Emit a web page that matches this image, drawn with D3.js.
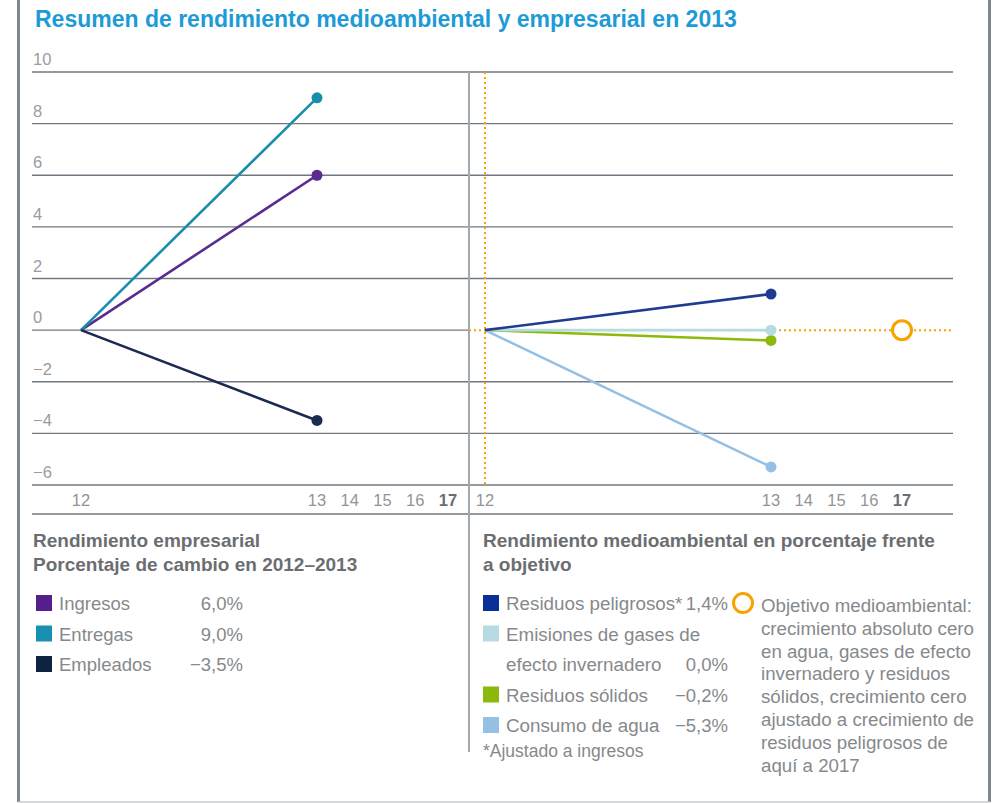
<!DOCTYPE html>
<html>
<head>
<meta charset="utf-8">
<script src="https://cdn.jsdelivr.net/npm/d3@7"></script>
<style>
  html, body { margin: 0; padding: 0; background: #fff; }
  svg text { font-family: "Liberation Sans", Arial, sans-serif; }
</style>
</head>
<body>
<div id="chart"></div>
<script>
(function() {
'use strict';

// values
const years = [12, 13, 14, 15, 16, 17];
const yTicks = [10, 8, 6, 4, 2, 0, -2, -4, -6];

const businessNames = ['Ingresos', 'Entregas', 'Empleados'];
const businessValues = [6.0, 9.0, -3.5];
const businessLabels = ['6,0%', '9,0%', '\u22123,5%'];

const envNames = [['Residuos peligrosos*'], ['Emisiones de gases de', 'efecto invernadero'], ['Residuos sólidos'], ['Consumo de agua']];
const envValues = [1.4, 0.0, -0.4, -5.3];
const envLabels = ['1,4%', '0,0%', '\u22120,2%', '\u22125,3%'];

const targetYear = 17;
const targetValue = 0;

const noteLines = [
  'Objetivo medioambiental:',
  'crecimiento absoluto cero',
  'en agua, gases de efecto',
  'invernadero y residuos',
  'sólidos, crecimiento cero',
  'ajustado a crecimiento de',
  'residuos peligrosos de',
  'aquí a 2017'
];

const businessColors = ['#5b2c8f', '#1a8daa', '#1b2a50'];
const businessSwatch = ['#561d8c', '#1890b0', '#0e2341'];
const envColors = ['#1f3b92', '#b7dbe3', '#8bba0c', '#94c0e6'];
const envSwatch = ['#0a2f96', '#b7dbe3', '#8bba0c', '#94c0e6'];
const orange = '#f8a200';
const grey = '#86898c';
const darkGrey = '#6b6e71';

const width = 1001;
const height = 803;

const svg = d3.select('#chart')
  .append('svg')
  .attr('width', width)
  .attr('height', height);

// frame
svg.append('line')
  .attr('x1', 18.5).attr('x2', 18.5).attr('y1', 0).attr('y2', 802)
  .attr('stroke', '#7d858d').attr('stroke-width', 3);
svg.append('line')
  .attr('x1', 989.5).attr('x2', 989.5).attr('y1', 0).attr('y2', 802)
  .attr('stroke', '#7d858d').attr('stroke-width', 3);
svg.append('line')
  .attr('x1', 18).attr('x2', 990).attr('y1', 802).attr('y2', 802)
  .attr('stroke', '#c9cccf').attr('stroke-width', 1.5);

svg.append('text')
  .attr('x', 35)
  .attr('y', 27)
  .attr('fill', '#1d9bd7')
  .attr('font-size', 23)
  .attr('font-weight', 'bold')
  .text('Resumen de rendimiento medioambiental y empresarial en 2013');

const y = d3.scaleLinear().domain([-6, 10]).range([485, 72]);
const xLeft = d3.scaleLinear().domain([12, 13, 17]).range([81, 317, 448]);
const xRight = d3.scaleLinear().domain([12, 13, 17]).range([485, 771, 902]);
const gridLeft = 32;
const gridRight = 953;
const divider = 469;

// gridlines
svg.selectAll('.grid')
  .data(yTicks)
  .enter()
  .append('line')
  .attr('class', 'grid')
  .attr('x1', gridLeft)
  .attr('x2', function(d) { return d === 0 ? divider : gridRight; })
  .attr('y1', function(d) { return y(d); })
  .attr('y2', function(d) { return y(d); })
  .attr('stroke', '#6f7881')
  .attr('stroke-width', 1.4);

svg.append('line')
  .attr('x1', gridLeft).attr('x2', gridRight)
  .attr('y1', 514).attr('y2', 514)
  .attr('stroke', '#6f7881').attr('stroke-width', 1.4);

svg.selectAll('.ylabel')
  .data(yTicks)
  .enter()
  .append('text')
  .attr('class', 'ylabel')
  .attr('x', 33)
  .attr('y', function(d) { return y(d) - 7; })
  .attr('fill', '#9a9c9f')
  .attr('font-size', 16.5)
  .text(function(d) { return d < 0 ? '\u2212' + Math.abs(d) : d; });

// panel divider
svg.append('line')
  .attr('x1', divider).attr('x2', divider)
  .attr('y1', y(10)).attr('y2', 752)
  .attr('stroke', '#a3a8ad').attr('stroke-width', 2);

// year labels on both panels
[xLeft, xRight].forEach(function(x) {
  svg.append('g')
    .selectAll('text')
    .data(years)
    .enter()
    .append('text')
    .attr('x', function(d) { return x(d); })
    .attr('y', 506)
    .attr('text-anchor', 'middle')
    .attr('font-size', 16.5)
    .attr('font-weight', function(d) { return d === targetYear ? 'bold' : 'normal'; })
    .attr('fill', function(d) { return d === targetYear ? darkGrey : '#929497'; })
    .text(function(d) { return d; });
});

// target guides
svg.append('line')
  .attr('x1', xRight(12)).attr('x2', xRight(12))
  .attr('y1', y(10)).attr('y2', y(-6))
  .attr('stroke', orange).attr('stroke-width', 2)
  .attr('stroke-dasharray', '2,3');
svg.append('line')
  .attr('x1', divider).attr('x2', gridRight)
  .attr('y1', y(targetValue)).attr('y2', y(targetValue))
  .attr('stroke', orange).attr('stroke-width', 2)
  .attr('stroke-dasharray', '2,3');

function drawSeries(x, values, colors) {
  const g = svg.append('g');
  g.selectAll('line')
    .data(values)
    .enter()
    .append('line')
    .attr('x1', x(12))
    .attr('y1', y(0))
    .attr('x2', x(13))
    .attr('y2', function(d) { return y(d); })
    .attr('stroke', function(d, i) { return colors[i]; })
    .attr('stroke-width', 2.6);
  g.selectAll('circle')
    .data(values)
    .enter()
    .append('circle')
    .attr('cx', x(13))
    .attr('cy', function(d) { return y(d); })
    .attr('r', 5.5)
    .attr('fill', function(d, i) { return colors[i]; });
}

drawSeries(xLeft, businessValues, businessColors);
// water first so the flatter lines sit on top
drawSeries(xRight, envValues.slice().reverse(), envColors.slice().reverse());

svg.append('circle')
  .attr('cx', xRight(targetYear))
  .attr('cy', y(targetValue))
  .attr('r', 9.5)
  .attr('fill', '#fff')
  .attr('stroke', orange)
  .attr('stroke-width', 3);

// legends
const legendHead = svg.append('g')
  .attr('font-size', 19)
  .attr('font-weight', 'bold')
  .attr('fill', darkGrey);
legendHead.append('text').attr('x', 33).attr('y', 547).text('Rendimiento empresarial');
legendHead.append('text').attr('x', 33).attr('y', 571).text('Porcentaje de cambio en 2012\u20132013');
legendHead.append('text').attr('x', 483).attr('y', 547).text('Rendimiento medioambiental en porcentaje frente');
legendHead.append('text').attr('x', 483).attr('y', 571).text('a objetivo');

const rowStep = 30.5;

const leftRows = svg.selectAll('.lrow')
  .data(businessNames)
  .enter()
  .append('g')
  .attr('class', 'lrow')
  .attr('transform', function(d, i) { return 'translate(0,' + (610 + i * rowStep) + ')'; });
leftRows.append('rect')
  .attr('x', 36).attr('y', -15).attr('width', 16).attr('height', 16)
  .attr('fill', function(d, i) { return businessSwatch[i]; });
leftRows.append('text')
  .attr('x', 59)
  .attr('font-size', 18.5)
  .attr('fill', grey)
  .text(function(d) { return d; });
leftRows.append('text')
  .attr('x', 243)
  .attr('text-anchor', 'end')
  .attr('font-size', 18.5)
  .attr('fill', grey)
  .text(function(d, i) { return businessLabels[i]; });

let line = 0;
envNames.forEach(function(names, i) {
  const top = 610 + line * rowStep;
  svg.append('rect')
    .attr('x', 483).attr('y', top - 15).attr('width', 16).attr('height', 16)
    .attr('fill', envSwatch[i]);
  names.forEach(function(n, j) {
    svg.append('text')
      .attr('x', 506)
      .attr('y', top + j * rowStep)
      .attr('font-size', 18.8)
      .attr('fill', grey)
      .text(n);
  });
  svg.append('text')
    .attr('x', 728)
    .attr('y', top + (names.length - 1) * rowStep)
    .attr('text-anchor', 'end')
    .attr('font-size', 18.5)
    .attr('fill', grey)
    .text(envLabels[i]);
  line += names.length;
});

svg.append('text')
  .attr('x', 483)
  .attr('y', 757)
  .attr('font-size', 17.5)
  .attr('fill', grey)
  .text('*Ajustado a ingresos');

svg.append('circle')
  .attr('cx', 743)
  .attr('cy', 603)
  .attr('r', 9.5)
  .attr('fill', 'none')
  .attr('stroke', orange)
  .attr('stroke-width', 3);

svg.append('g')
  .selectAll('text')
  .data(noteLines)
  .enter()
  .append('text')
  .attr('x', 761)
  .attr('y', function(d, i) { return 612 + i * 22.8; })
  .attr('font-size', 18.7)
  .attr('fill', grey)
  .text(function(d) { return d; });

})();
</script>
</body>
</html>
